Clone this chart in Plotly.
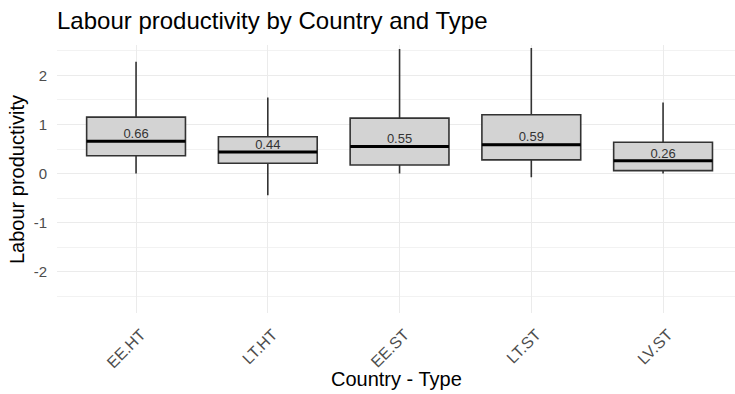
import plotly.graph_objects as go

categories = ["EE.HT", "LT.HT", "EE.ST", "LT.ST", "LV.ST"]
q1 = [0.365, 0.21, 0.175, 0.28, 0.06]
median = [0.66, 0.44, 0.55, 0.59, 0.26]
q3 = [1.15, 0.75, 1.13, 1.20, 0.64]
lower = [0.0, -0.44, 0.0, -0.075, 0.0]
upper = [2.28, 1.55, 2.54, 2.56, 1.45]
median_labels = ["0.66", "0.44", "0.55", "0.59", "0.26"]
y_ticks = [-2, -1, 0, 1, 2]

BOX_W = 0.75
FONT = "Liberation Sans, Arial, sans-serif"
W, H = 735, 394
xs = list(range(len(categories)))

fig = go.Figure()
fig.add_trace(go.Box(
    x=xs, q1=q1, median=median, q3=q3, lowerfence=lower, upperfence=upper,
    width=BOX_W, whiskerwidth=0, fillcolor="#d3d3d3",
    line=dict(color="#333333", width=1.6), boxpoints=False,
    hoverinfo="skip", showlegend=False,
))

mx, my = [], []
for i, m in zip(xs, median):
    mx += [i - BOX_W / 2, i + BOX_W / 2, None]
    my += [m, m, None]
fig.add_trace(go.Scatter(x=mx, y=my, mode="lines",
                         line=dict(color="black", width=3),
                         hoverinfo="skip", showlegend=False))

fig.add_trace(go.Scatter(x=xs, y=median, mode="text", text=median_labels,
                         textposition="top center",
                         textfont=dict(family=FONT, size=13, color="#333333"),
                         hoverinfo="skip", showlegend=False))

fig.update_layout(
    width=W, height=H,
    margin=dict(l=57, r=0, t=45, b=81),
    paper_bgcolor="white", plot_bgcolor="white",
    title=dict(text="Labour productivity by Country and Type",
               font=dict(family=FONT, size=24, color="black"),
               x=57 / W, xanchor="left", xref="container",
               y=1 - 21 / H, yanchor="middle", yref="container"),
    xaxis=dict(range=[-0.6, 4.546], tickmode="array", tickvals=xs,
               ticktext=categories, tickangle=-45, automargin=False,
               tickfont=dict(family=FONT, size=16, color="#4d4d4d"),
               showgrid=True, gridcolor="#ebebeb", gridwidth=1.4,
               zeroline=False, showline=False,
               ticks="outside", ticklen=5, tickcolor="rgba(0,0,0,0)",
               ticklabelshift=5),
    yaxis=dict(range=[-2.84, 2.62], tickmode="array", tickvals=y_ticks,
               ticktext=[str(v) for v in y_ticks], automargin=False,
               tickfont=dict(family=FONT, size=15, color="#4d4d4d"),
               showgrid=True, gridcolor="#ebebeb", gridwidth=1.4,
               zeroline=False, showline=False,
               ticks="outside", ticklen=6, tickcolor="rgba(0,0,0,0)",
               minor=dict(dtick=0.5, tick0=0.5, showgrid=True,
                          gridcolor="#f2f2f2", gridwidth=1)),
    annotations=[
        dict(text="Country - Type", xref="paper", x=0.5, xanchor="center",
             yref="paper", y=-(379 - 313) / (H - 45 - 81), yanchor="middle",
             showarrow=False, font=dict(family=FONT, size=20, color="black")),
        dict(text="Labour productivity", textangle=-90,
             xref="paper", x=-(57 - 17) / (W - 57), xanchor="center",
             yref="paper", y=(313 - 180) / (H - 45 - 81), yanchor="middle",
             showarrow=False, font=dict(family=FONT, size=20, color="black")),
    ],
)

fig.write_html("out.html",
               config={"displayModeBar": False},
               post_script="document.body.style.margin='0';"
                           "document.body.style.overflow='hidden';")
